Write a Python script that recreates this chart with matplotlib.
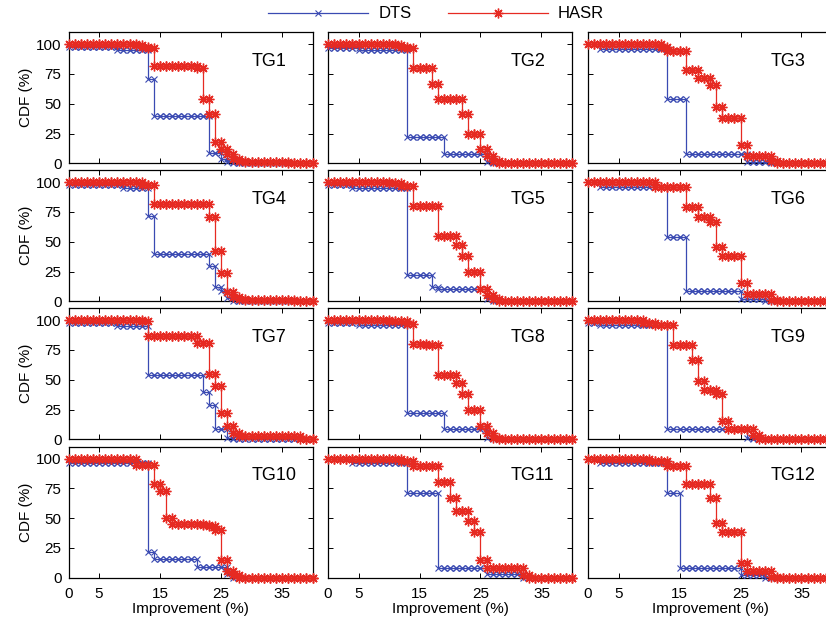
import matplotlib
matplotlib.use("Agg")
import matplotlib.pyplot as plt
from matplotlib.lines import Line2D
import numpy as np

plt.rcParams['font.family'] = ['Liberation Sans', 'DejaVu Sans']

# ------------------------------- data (CDF %, one value per 1% step) -------------------------------
improvement = np.arange(0, 41)
groups = ["TG1", "TG2", "TG3", "TG4", "TG5", "TG6", "TG7", "TG8", "TG9", "TG10", "TG11", "TG12"]
xtick_vals = [0, 5, 15, 25, 35]
ytick_vals = [0, 25, 50, 75, 100]

dts_tg1 = [98, 98, 98, 98, 98, 98, 98, 98, 95, 95,
           95, 95, 95, 71, 40, 40, 40, 40, 40, 40,
           40, 40, 40, 9, 9, 4, 1, 0, 0, 0,
           0, 0, 0, 0, 0, 0, 0, 0, 0, 0,
           0]
hasr_tg1 = [100, 100, 100, 100, 100, 100, 100, 100, 100, 100,
            100, 99, 98, 97, 82, 82, 82, 82, 82, 82,
            82, 80, 54, 41, 18, 12, 8, 4, 2, 1,
            1, 1, 1, 1, 1, 1, 0, 0, 0, 0,
            0]
dts_tg2 = [97, 97, 97, 97, 97, 95, 95, 95, 95, 95,
           95, 95, 95, 22, 22, 22, 22, 22, 22, 8,
           8, 8, 8, 8, 8, 8, 1, 0, 0, 0,
           0, 0, 0, 0, 0, 0, 0, 0, 0, 0,
           0]
hasr_tg2 = [100, 100, 100, 100, 100, 100, 100, 100, 100, 100,
            100, 99, 98, 97, 80, 80, 80, 67, 54, 54,
            54, 54, 41, 25, 25, 12, 6, 2, 0, 0,
            0, 0, 0, 0, 0, 0, 0, 0, 0, 0,
            0]
dts_tg3 = [100, 100, 96, 96, 96, 96, 96, 96, 96, 96,
           96, 96, 96, 54, 54, 54, 8, 8, 8, 8,
           8, 8, 8, 8, 8, 8, 1, 1, 1, 1,
           0, 0, 0, 0, 0, 0, 0, 0, 0, 0,
           0]
hasr_tg3 = [100, 100, 100, 100, 100, 100, 100, 100, 100, 100,
            100, 100, 98, 94, 94, 94, 78, 78, 72, 72,
            66, 47, 38, 38, 38, 15, 6, 6, 6, 6,
            2, 0, 0, 0, 0, 0, 0, 0, 0, 0,
            0]
dts_tg4 = [98, 98, 98, 98, 98, 98, 98, 98, 98, 95,
           95, 95, 95, 72, 40, 40, 40, 40, 40, 40,
           40, 40, 40, 30, 12, 9, 3, 0, 0, 0,
           0, 0, 0, 0, 0, 0, 0, 0, 0, 0,
           0]
hasr_tg4 = [100, 100, 100, 100, 100, 100, 100, 100, 100, 100,
            100, 100, 98, 98, 82, 82, 82, 82, 82, 82,
            82, 82, 82, 71, 42, 24, 8, 4, 2, 1,
            1, 1, 1, 1, 1, 1, 1, 0, 0, 0,
            0]
dts_tg5 = [98, 98, 98, 98, 95, 95, 95, 95, 95, 95,
           95, 95, 95, 22, 22, 22, 22, 12, 10, 10,
           10, 10, 10, 10, 10, 10, 2, 0, 0, 0,
           0, 0, 0, 0, 0, 0, 0, 0, 0, 0,
           0]
hasr_tg5 = [100, 100, 100, 100, 100, 100, 100, 100, 100, 100,
            99, 99, 97, 97, 80, 80, 80, 80, 55, 55,
            55, 47, 38, 25, 25, 10, 5, 2, 0, 0,
            0, 0, 0, 0, 0, 0, 0, 0, 0, 0,
            0]
dts_tg6 = [100, 100, 96, 96, 96, 96, 96, 96, 96, 96,
           96, 96, 96, 54, 54, 54, 9, 9, 9, 9,
           9, 9, 9, 9, 9, 2, 2, 2, 2, 0,
           0, 0, 0, 0, 0, 0, 0, 0, 0, 0,
           0]
hasr_tg6 = [100, 100, 100, 100, 100, 100, 100, 100, 100, 100,
            100, 96, 96, 96, 96, 96, 79, 79, 71, 71,
            67, 46, 38, 38, 38, 15, 6, 6, 6, 6,
            1, 0, 0, 0, 0, 0, 0, 0, 0, 0,
            0]
dts_tg7 = [98, 98, 98, 98, 98, 98, 98, 98, 95, 95,
           95, 95, 95, 54, 54, 54, 54, 54, 54, 54,
           54, 54, 40, 29, 9, 9, 1, 0, 0, 0,
           0, 0, 0, 0, 0, 0, 0, 0, 0, 0,
           0]
hasr_tg7 = [100, 100, 100, 100, 100, 100, 100, 100, 100, 100,
            100, 100, 99, 87, 87, 87, 87, 87, 87, 87,
            87, 81, 81, 55, 45, 22, 11, 5, 3, 3,
            3, 3, 3, 3, 3, 3, 3, 3, 0, 0,
            0]
dts_tg8 = [98, 98, 98, 98, 98, 96, 96, 96, 96, 96,
           96, 96, 96, 22, 22, 22, 22, 22, 22, 9,
           9, 9, 9, 9, 9, 9, 1, 0, 0, 0,
           0, 0, 0, 0, 0, 0, 0, 0, 0, 0,
           0]
hasr_tg8 = [100, 100, 100, 100, 100, 100, 100, 100, 100, 100,
            99, 99, 99, 97, 80, 80, 79, 79, 54, 54,
            54, 47, 38, 25, 25, 11, 5, 1, 0, 0,
            0, 0, 0, 0, 0, 0, 0, 0, 0, 0,
            0]
dts_tg9 = [98, 98, 96, 96, 96, 96, 96, 96, 96, 96,
           96, 96, 96, 9, 9, 9, 9, 9, 9, 9,
           9, 9, 9, 9, 9, 9, 1, 0, 0, 0,
           0, 0, 0, 0, 0, 0, 0, 0, 0, 0,
           0]
hasr_tg9 = [100, 100, 100, 100, 100, 100, 100, 100, 100, 98,
            98, 96, 96, 96, 79, 79, 79, 67, 49, 41,
            41, 38, 15, 9, 9, 9, 9, 4, 0, 0,
            0, 0, 0, 0, 0, 0, 0, 0, 0, 0,
            0]
dts_tg10 = [96, 96, 96, 96, 96, 96, 96, 96, 96, 96,
            96, 96, 96, 22, 16, 16, 16, 16, 16, 16,
            16, 9, 9, 9, 9, 9, 3, 0, 0, 0,
            0, 0, 0, 0, 0, 0, 0, 0, 0, 0,
            0]
hasr_tg10 = [100, 100, 100, 100, 100, 100, 100, 100, 100, 100,
             100, 95, 95, 95, 79, 73, 50, 45, 45, 45,
             45, 45, 44, 43, 40, 15, 6, 2, 0, 0,
             0, 0, 0, 0, 0, 0, 0, 0, 0, 0,
             0]
dts_tg11 = [100, 100, 100, 100, 96, 96, 96, 96, 96, 96,
            96, 96, 96, 71, 71, 71, 71, 71, 8, 8,
            8, 8, 8, 8, 8, 8, 3, 3, 3, 3,
            3, 3, 0, 0, 0, 0, 0, 0, 0, 0,
            0]
hasr_tg11 = [100, 100, 100, 100, 100, 100, 100, 100, 100, 100,
             100, 100, 98, 98, 94, 94, 94, 94, 80, 80,
             67, 56, 56, 48, 38, 15, 8, 8, 8, 8,
             8, 8, 2, 0, 0, 0, 0, 0, 0, 0,
             0]
dts_tg12 = [100, 100, 96, 96, 96, 96, 96, 96, 96, 96,
            96, 96, 96, 71, 71, 8, 8, 8, 8, 8,
            8, 8, 8, 8, 8, 2, 2, 2, 2, 0,
            0, 0, 0, 0, 0, 0, 0, 0, 0, 0,
            0]
hasr_tg12 = [100, 100, 100, 100, 100, 100, 100, 100, 100, 100,
             98, 98, 98, 94, 94, 94, 79, 79, 79, 79,
             67, 46, 38, 38, 38, 12, 6, 6, 6, 6,
             1, 0, 0, 0, 0, 0, 0, 0, 0, 0,
             0]

dts_all = [dts_tg1, dts_tg2, dts_tg3, dts_tg4, dts_tg5, dts_tg6,
           dts_tg7, dts_tg8, dts_tg9, dts_tg10, dts_tg11, dts_tg12]
hasr_all = [hasr_tg1, hasr_tg2, hasr_tg3, hasr_tg4, hasr_tg5, hasr_tg6,
            hasr_tg7, hasr_tg8, hasr_tg9, hasr_tg10, hasr_tg11, hasr_tg12]

for s in dts_all + hasr_all:
    assert len(s) == len(improvement)

# ------------------------------- style --------------------------------------------------
BLUE = "#3a4ab2"
RED = "#e62a22"
ASTERISK = (8, 2, 0)

W, H = 826, 626
col_left = [68.5, 328, 588]        # pixel left edge of each column
row_bottom = [163.3, 301.3, 439.3, 577.7]  # pixel bottom edge of each row
ax_w, ax_h = 244, 131


def stairs(ax, x, y, color, marker, ms, mew, z):
    y = np.asarray(y, dtype=float)
    ax.plot(x, y, drawstyle="steps-post", color=color, lw=0.9, zorder=z)
    # markers on every corner of the stair line (like matlab stairs)
    ax.plot(x, y, ls="none", marker=marker, ms=ms, mew=mew, color=color,
            mfc="none", clip_on=False, zorder=z)
    ax.plot(x[1:], y[:-1], ls="none", marker=marker, ms=ms, mew=mew, color=color,
            mfc="none", clip_on=False, zorder=z)


fig = plt.figure(figsize=(W / 100, H / 100), dpi=100)

for i, name in enumerate(groups):
    r, c = divmod(i, 3)
    ax = fig.add_axes([col_left[c] / W, 1 - row_bottom[r] / H, ax_w / W, ax_h / H])
    stairs(ax, improvement, dts_all[i], BLUE, "x", 5, 0.8, 3)
    stairs(ax, improvement, hasr_all[i], RED, ASTERISK, 7, 1.0, 4)

    ax.set_xlim(0, 40)
    ax.set_ylim(0, 110)
    ax.set_xticks(xtick_vals)
    ax.set_yticks(ytick_vals)
    ax.tick_params(direction="in", top=True, right=True, length=3.5, width=0.7,
                   labelsize=11, pad=5)
    for sp in ax.spines.values():
        sp.set_linewidth(0.9)
    if c == 0:
        ax.set_ylabel("CDF (%)", fontsize=11, labelpad=2)
    else:
        ax.set_yticklabels([])
    if r == 3:
        ax.set_xlabel("Improvement (%)", fontsize=11, labelpad=1)
        ax.tick_params(axis="x", pad=6.5)
    else:
        ax.set_xticklabels([])
    ax.text(0.75, 0.78, name, transform=ax.transAxes, ha="left", va="center",
            fontsize=13, zorder=10)

handles = [Line2D([], [], color=BLUE, lw=0.9, marker="x", ms=5, mew=0.8),
           Line2D([], [], color=RED, lw=0.9, marker=ASTERISK, ms=7, mew=1.0)]
fig.legend(handles, ["DTS", "HASR"], loc="center", bbox_to_anchor=(0.528, 1 - 14 / H),
           ncol=2, frameon=False, fontsize=12, numpoints=1, handlelength=6.0,
           handletextpad=0.6, columnspacing=2.2)

fig.savefig("out.png", dpi=100)
plt.close()
